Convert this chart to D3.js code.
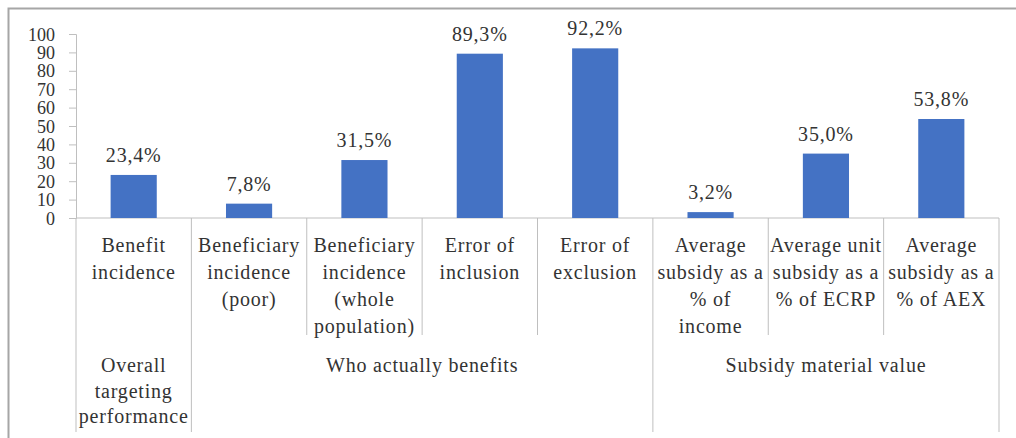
<!DOCTYPE html>
<html>
<head>
<meta charset="utf-8">
<script src="https://cdn.jsdelivr.net/npm/d3@7"></script>
<style>
  html, body { margin: 0; padding: 0; background: #fff; }
  svg { display: block; }
</style>
</head>
<body>
<svg id="chart" width="1016" height="438"></svg>
<script>
// Indicator labels (one entry per bar, split into lines)
const categories = [
  ["Benefit", "incidence"],
  ["Beneficiary", "incidence", "(poor)"],
  ["Beneficiary", "incidence", "(whole", "population)"],
  ["Error of", "inclusion"],
  ["Error of", "exclusion"],
  ["Average", "subsidy as a", "% of", "income"],
  ["Average unit", "subsidy as a", "% of ECRP"],
  ["Average", "subsidy as a", "% of AEX"]
];
// Indicator values, in percent
const values = [23.4, 7.8, 31.5, 89.3, 92.2, 3.2, 35.0, 53.8];
// Outer grouping of the indicators
const groupNames = [
  ["Overall", "targeting", "performance"],
  ["Who actually benefits"],
  ["Subsidy material value"]
];
const groupSizes = [1, 4, 3];
// Y axis ticks
const yTicks = [0, 10, 20, 30, 40, 50, 60, 70, 80, 90, 100];

const FONT = '"Liberation Serif", "DejaVu Serif", serif';
const TEXT = "#333";

const svg = d3.select("#chart");
const plotLeft = 76, plotRight = 999, plotTop = 34, plotBase = 218;
const catBottom = 335, groupBottom = 432;
const axisColor = "#bfbfbf";

// frame
svg.append("path")
  .attr("d", "M8.5,438 V8.5 H1016")
  .attr("fill", "none")
  .attr("stroke", "#a6a6a6")
  .attr("stroke-width", 2);

const idx = d3.range(values.length);
const y = d3.scaleLinear().domain([0, 100]).range([plotBase, plotTop]);
const x = d3.scaleBand().domain(idx).range([plotLeft, plotRight])
  .paddingInner(0.6).paddingOuter(0.3);
const cell = d3.scaleBand().domain(idx).range([plotLeft, plotRight]);

// y axis
const yAxis = d3.axisLeft(y).tickValues(yTicks).tickSize(7).tickPadding(14)
  .tickFormat(d3.format("d"));
const gy = svg.append("g").attr("transform", `translate(${plotLeft},0)`).call(yAxis);
gy.attr("font-family", FONT).attr("font-size", 18);
gy.select(".domain").attr("stroke", axisColor);
gy.selectAll(".tick line").attr("stroke", axisColor);
gy.selectAll(".tick text").attr("fill", TEXT).attr("dy", "0.34em");

// baseline
svg.append("line")
  .attr("x1", plotLeft).attr("x2", plotRight)
  .attr("y1", y(0)).attr("y2", y(0))
  .attr("stroke", axisColor);

// bars
svg.append("g").selectAll("rect").data(values).join("rect")
  .attr("x", (d, i) => x(i))
  .attr("width", x.bandwidth())
  .attr("y", d => y(d))
  .attr("height", d => y(0) - y(d))
  .attr("fill", "#4472c4");

// value labels
const fmt = d => d3.format(".1f")(d).replace(".", ",") + "%";
svg.append("g")
  .attr("font-family", FONT).attr("font-size", 20).attr("fill", TEXT)
  .selectAll("text").data(values).join("text")
  .attr("x", (d, i) => x(i) + x.bandwidth() / 2)
  .attr("y", d => y(d) - 13)
  .attr("text-anchor", "middle")
  .attr("letter-spacing", 0.8)
  .text(fmt);

// separators between categories and groups
const groupStarts = [];
groupSizes.reduce((acc, n) => { groupStarts.push(acc); return acc + n; }, 0);
const boundaries = d3.range(values.length + 1);
svg.append("g").selectAll("line").data(boundaries).join("line")
  .attr("x1", i => i < values.length ? cell(i) : plotRight)
  .attr("x2", i => i < values.length ? cell(i) : plotRight)
  .attr("y1", y(0))
  .attr("y2", i => (groupStarts.includes(i) || i === values.length) ? groupBottom : catBottom)
  .attr("stroke", axisColor);

// category labels
const lineH = 27;
const catG = svg.append("g")
  .attr("font-family", FONT).attr("font-size", 20).attr("fill", TEXT);
categories.forEach((lines, i) => {
  const t = catG.append("text")
    .attr("text-anchor", "middle")
    .attr("letter-spacing", 0.8);
  lines.forEach((ln, j) => {
    t.append("tspan")
      .attr("x", cell(i) + cell.bandwidth() / 2)
      .attr("y", 252 + j * lineH)
      .text(ln);
  });
});

// group labels
const grpG = svg.append("g")
  .attr("font-family", FONT).attr("font-size", 20).attr("fill", TEXT);
groupNames.forEach((lines, g) => {
  const s = groupStarts[g], n = groupSizes[g];
  const cx = cell(s) + n * cell.step() / 2;
  const t = grpG.append("text")
    .attr("text-anchor", "middle")
    .attr("letter-spacing", 0.8);
  lines.forEach((ln, j) => {
    t.append("tspan").attr("x", cx).attr("y", 372 + j * 25.5).text(ln);
  });
});
</script>
</body>
</html>
